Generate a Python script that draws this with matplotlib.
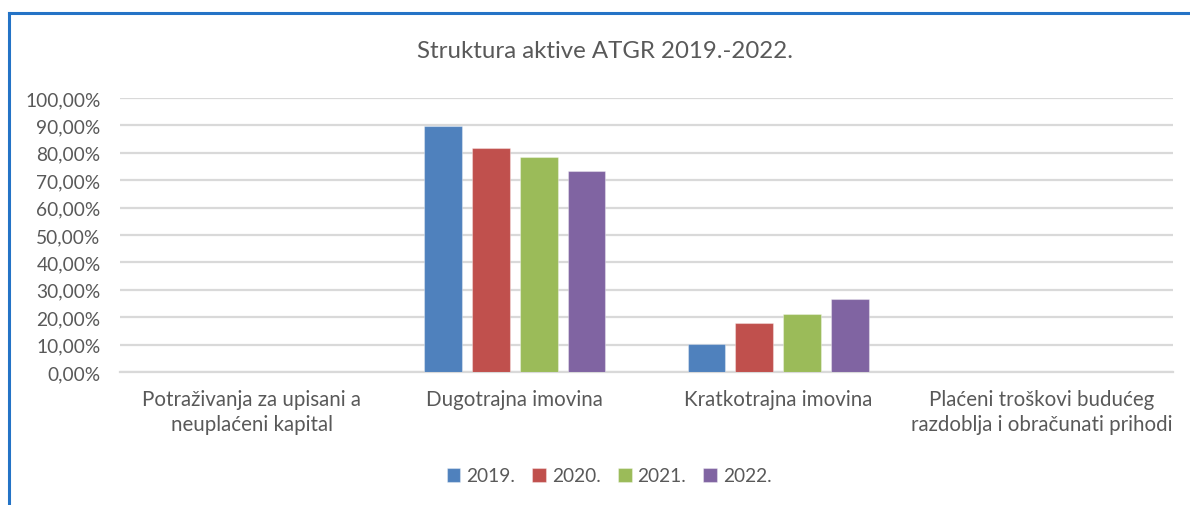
import matplotlib
matplotlib.use("Agg")
import matplotlib.pyplot as plt
from matplotlib.lines import Line2D
import numpy as np

categories = ["Potraživanja za upisani a\nneuplaćeni kapital",
              "Dugotrajna imovina",
              "Kratkotrajna imovina",
              "Plaćeni troškovi budućeg\nrazdoblja i obračunati prihodi"]
years = ["2019.", "2020.", "2021.", "2022."]
v2019 = [0.0, 89.7, 10.1, 0.0]
v2020 = [0.0, 81.9, 17.9, 0.0]
v2021 = [0.0, 78.6, 21.2, 0.0]
v2022 = [0.0, 73.2, 26.6, 0.0]
series = [v2019, v2020, v2021, v2022]
colors = ["#4f81bd", "#c0504d", "#9bbb59", "#8064a2"]
yticks = [0, 10, 20, 30, 40, 50, 60, 70, 80, 90, 100]
ytick_labels = ["0,00%", "10,00%", "20,00%", "30,00%", "40,00%", "50,00%",
                "60,00%", "70,00%", "80,00%", "90,00%", "100,00%"]

plt.rcParams['font.family'] = ['Lato', 'DejaVu Sans']
text_color = "#595959"

W, H = 1190, 506
fig = plt.figure(figsize=(W/100, H/100), dpi=100)
fig.patch.set_facecolor("white")

ax = fig.add_axes([120/W, (H-373)/H, 1053/W, 274/H])
x = np.arange(len(categories))
bw = 0.143
step = 0.1816
for i, (vals, c, lab) in enumerate(zip(series, colors, years)):
    ax.bar(x + (i-1.5)*step, vals, width=bw, color=c, label=lab, zorder=3,
           edgecolor=(1, 1, 1, 0.35), linewidth=0.8)

ax.set_xlim(-0.5, len(categories)-0.5)
ax.set_ylim(0, 100)
ax.set_yticks(yticks)
ax.set_yticklabels(ytick_labels)
ax.set_xticks(x)
ax.set_xticklabels(categories, linespacing=1.35)
ax.yaxis.grid(True, color="#d9d9d9", linewidth=1.6, zorder=0)
ax.set_axisbelow(True)
for s in ["top", "right", "left"]:
    ax.spines[s].set_visible(False)
ax.spines["bottom"].set_color("#d9d9d9")
ax.spines["bottom"].set_linewidth(1.6)
ax.tick_params(axis="y", length=0, pad=14, labelsize=13.8, labelcolor=text_color)
ax.tick_params(axis="x", length=0, pad=12, labelsize=14.8, labelcolor=text_color)

fig.text(605/W, 1 - 52/H, "Struktura aktive ATGR 2019.-2022.", ha="center", va="center",
         fontsize=17.3, color=text_color)

leg = fig.legend(loc="center", bbox_to_anchor=(609/W, 1 - 477/H), ncol=4, frameon=False,
                 handlelength=0.72, handleheight=0.72, handletextpad=0.3,
                 columnspacing=0.9, fontsize=13.8)
for t in leg.get_texts():
    t.set_color(text_color)

# outer frame (top and left edges visible)
fig.add_artist(Line2D([8.5/W, 1.0], [1 - 13.5/H, 1 - 13.5/H], transform=fig.transFigure,
                      color="#2473c6", linewidth=2.2))
fig.add_artist(Line2D([8.5/W, 8.5/W], [0, 1 - 13.5/H], transform=fig.transFigure,
                      color="#2473c6", linewidth=2.2))

fig.savefig("out.png", dpi=100, facecolor="white")
